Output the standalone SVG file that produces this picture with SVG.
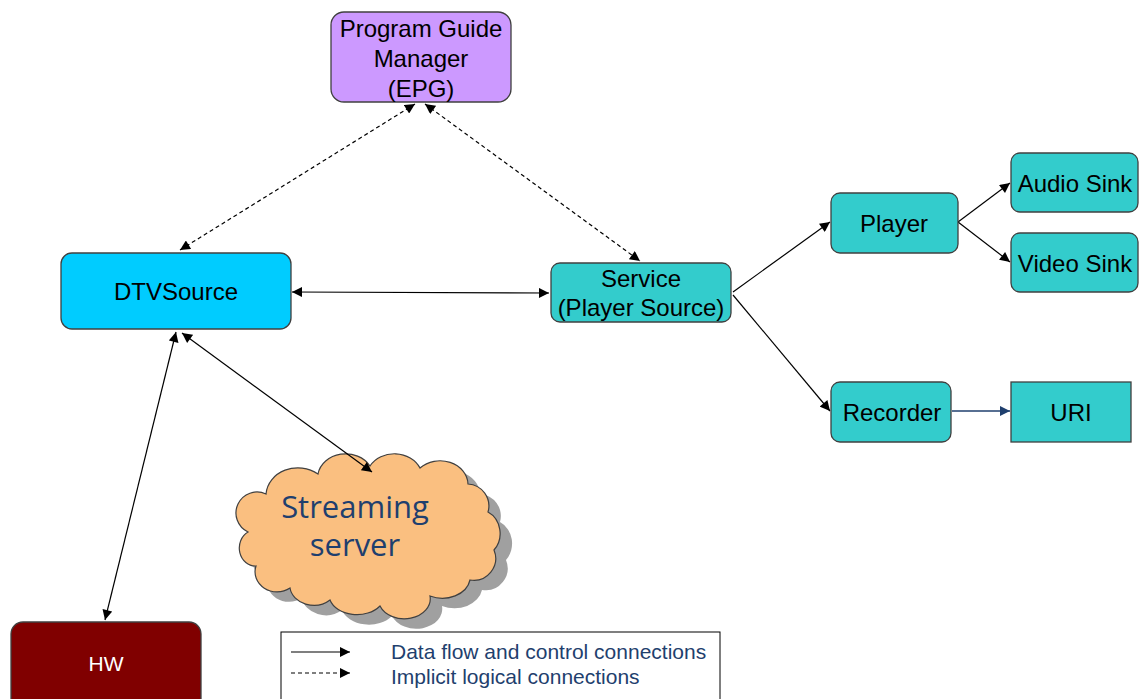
<svg xmlns="http://www.w3.org/2000/svg" width="1140" height="699" viewBox="0 0 1140 699">
<defs>
<marker id="ah" viewBox="0 0 10 10" refX="10" refY="5" markerWidth="11" markerHeight="10" markerUnits="userSpaceOnUse" orient="auto-start-reverse"><path d="M0,0 L10,5 L0,10 z" fill="#000"/></marker>
<marker id="ahb" viewBox="0 0 10 10" refX="10" refY="5" markerWidth="11" markerHeight="10" markerUnits="userSpaceOnUse" orient="auto"><path d="M0,0 L10,5 L0,10 z" fill="#1f3f6e"/></marker>
</defs>
<style>
.n{stroke:#404040;stroke-width:1.3}
.t{font-family:"Liberation Sans",Arial,sans-serif;font-size:24px;fill:#000;text-anchor:middle}
.c{fill:none;stroke:#000;stroke-width:1.2}
.d{stroke-dasharray:4,3}
.lg{font-family:"Liberation Sans",Arial,sans-serif;font-size:21px;fill:#1f3f6e}
</style>
<rect width="1140" height="699" fill="#fff"/>
<g id="streaming">
<path transform="translate(12,10)" fill="#808080" opacity="0.75" d="M248,532 A20,20 0 0 1 266,494 A32,28 0 0 1 318,474 A28,24 0 0 1 370,466 A28,24 0 0 1 420,468 A28,24 0 0 1 468,484 A22,22 0 0 1 488,512 A22,24 0 0 1 494,550 A22,22 0 0 1 470,580 A28,22 0 0 1 430,596 A26,20 0 0 1 380,606 A28,20 0 0 1 330,600 A24,20 0 0 1 290,588 A22,20 0 0 1 256,566 A16,18 0 0 1 248,532 Z"/>
<path fill="#fabf80" stroke="#404040" stroke-width="1.2" d="M248,532 A20,20 0 0 1 266,494 A32,28 0 0 1 318,474 A28,24 0 0 1 370,466 A28,24 0 0 1 420,468 A28,24 0 0 1 468,484 A22,22 0 0 1 488,512 A22,24 0 0 1 494,550 A22,22 0 0 1 470,580 A28,22 0 0 1 430,596 A26,20 0 0 1 380,606 A28,20 0 0 1 330,600 A24,20 0 0 1 290,588 A22,20 0 0 1 256,566 A16,18 0 0 1 248,532 Z"/>
<text x="355" y="518" font-family="'Open Sans','Noto Sans',sans-serif" font-size="31" fill="#1f3f6e" text-anchor="middle">Streaming</text>
<text x="355" y="556" font-family="'Open Sans','Noto Sans',sans-serif" font-size="31" fill="#1f3f6e" text-anchor="middle">server</text>
</g>
<g id="connectors">
<line class="c d" x1="180" y1="250" x2="415" y2="104" marker-start="url(#ah)" marker-end="url(#ah)"/>
<line class="c d" x1="425" y1="104" x2="640" y2="261" marker-start="url(#ah)" marker-end="url(#ah)"/>
<line class="c" x1="292" y1="292" x2="549" y2="293" marker-start="url(#ah)" marker-end="url(#ah)"/>
<line class="c" x1="733" y1="292" x2="830" y2="222" marker-end="url(#ah)"/>
<line class="c" x1="733" y1="295" x2="830" y2="411" marker-end="url(#ah)"/>
<line class="c" x1="958" y1="222" x2="1010" y2="183" marker-end="url(#ah)"/>
<line class="c" x1="958" y1="222" x2="1010" y2="262" marker-end="url(#ah)"/>
<line x1="952" y1="411" x2="1010" y2="411" stroke="#1f3f6e" stroke-width="1.3" marker-end="url(#ahb)"/>
<line class="c" x1="176" y1="332" x2="105" y2="620" marker-start="url(#ah)" marker-end="url(#ah)"/>
<line class="c" x1="182" y1="333" x2="372" y2="472" marker-start="url(#ah)" marker-end="url(#ah)"/>
</g>
<g id="epg"><rect class="n" x="331" y="12" width="180" height="90" rx="13" fill="#cc99ff"/>
<text class="t" x="421" y="37">Program Guide</text><text class="t" x="421" y="67">Manager</text><text class="t" x="421" y="97">(EPG)</text></g>
<g id="dtvsource"><rect class="n" x="61" y="253" width="230" height="76" rx="11" fill="#00ccff"/>
<text class="t" x="176" y="300">DTVSource</text></g>
<g id="service"><rect class="n" x="551" y="263" width="180" height="59" rx="9" fill="#33cccc"/>
<text class="t" x="641" y="287">Service</text><text class="t" x="641" y="316">(Player Source)</text></g>
<g id="player"><rect class="n" x="831" y="193" width="127" height="60" rx="9" fill="#33cccc"/>
<text class="t" x="894" y="232">Player</text></g>
<g id="audiosink"><rect class="n" x="1011" y="153" width="127" height="59" rx="9" fill="#33cccc"/>
<text class="t" x="1075" y="192">Audio Sink</text></g>
<g id="videosink"><rect class="n" x="1011" y="233" width="127" height="59" rx="9" fill="#33cccc"/>
<text class="t" x="1075" y="272">Video Sink</text></g>
<g id="recorder"><rect class="n" x="831" y="382" width="120" height="60" rx="9" fill="#33cccc"/>
<text class="t" x="892" y="421">Recorder</text></g>
<g id="uri"><rect class="n" x="1011" y="382" width="120" height="60" fill="#33cccc"/>
<text class="t" x="1071" y="421">URI</text></g>
<g id="hw"><rect x="11" y="622" width="190" height="90" rx="12" fill="#800000" stroke="#404040" stroke-width="1.3"/>
<text x="106" y="671" font-family="'Liberation Sans',Arial,sans-serif" font-size="21" fill="#fff" text-anchor="middle">HW</text></g>
<g id="legend"><rect x="281" y="632" width="439" height="80" fill="#fff" stroke="#000" stroke-width="1"/>
<line class="c" x1="291" y1="652" x2="350" y2="652" marker-end="url(#ah)"/>
<line class="c d" x1="291" y1="673" x2="350" y2="673" marker-end="url(#ah)"/>
<text class="lg" x="391" y="659">Data flow and control connections</text>
<text class="lg" x="391" y="684">Implicit logical connections</text>
</g>
</svg>
